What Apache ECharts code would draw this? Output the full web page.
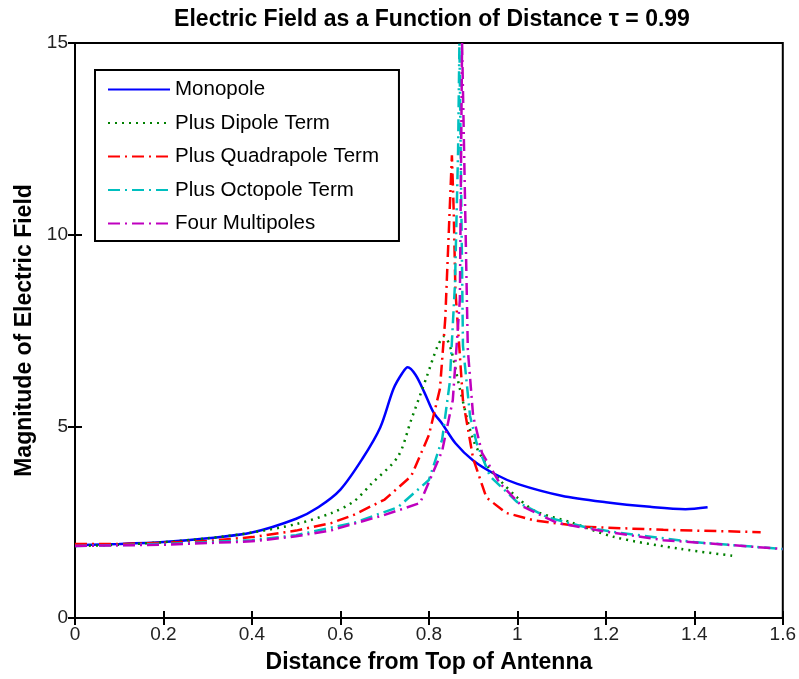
<!DOCTYPE html>
<html>
<head>
<meta charset="utf-8">
<script src="https://cdn.jsdelivr.net/npm/echarts@6/dist/echarts.min.js"></script>
<style>
  html, body { margin: 0; padding: 0; background: #fff; }
  #chart { width: 799px; height: 679px; }
</style>
</head>
<body>
<div id="chart"></div>
<script>
// distance from top of antenna (x) and field magnitude (y)
var monoX = [0, 0.1, 0.2, 0.3, 0.4, 0.5, 0.55, 0.6, 0.65, 0.69, 0.72, 0.74, 0.752, 0.77, 0.79, 0.81, 0.83, 0.86, 0.9, 0.95, 1.0, 1.1, 1.2, 1.3, 1.38, 1.43];
var monoY = [1.9, 1.93, 1.98, 2.08, 2.23, 2.59, 2.89, 3.35, 4.16, 4.97, 5.98, 6.39, 6.54, 6.34, 5.88, 5.37, 5.07, 4.56, 4.11, 3.75, 3.5, 3.19, 3.02, 2.9, 2.84, 2.89];

var dipX = [0, 0.1, 0.2, 0.3, 0.4, 0.5, 0.58, 0.63, 0.67, 0.73, 0.76, 0.795, 0.82, 0.835, 0.85, 0.87, 0.9, 0.93, 0.96, 1.0, 1.04, 1.12, 1.22, 1.37, 1.49];
var dipY = [1.88, 1.91, 1.98, 2.08, 2.23, 2.45, 2.74, 3.04, 3.5, 4.21, 5.17, 6.29, 7.1, 7.35, 7.0, 5.98, 4.66, 4.0, 3.6, 3.14, 2.79, 2.5, 2.11, 1.8, 1.62];

var quadX = [0, 0.1, 0.2, 0.3, 0.4, 0.5, 0.58, 0.63, 0.7, 0.76, 0.8, 0.825, 0.837, 0.847, 0.852, 0.856, 0.86, 0.877, 0.9, 0.93, 0.975, 1.04, 1.15, 1.33, 1.55];
var quadY = [1.93, 1.93, 1.96, 2.01, 2.11, 2.28, 2.48, 2.69, 3.09, 3.7, 4.77, 5.98, 7.81, 10.65, 12.07, 10.65, 8.52, 5.68, 4.16, 3.14, 2.74, 2.54, 2.38, 2.3, 2.24];

var octX = [0, 0.2, 0.4, 0.5, 0.58, 0.63, 0.73, 0.8, 0.83, 0.847, 0.859, 0.866, 0.869, 0.872, 0.877, 0.893, 0.908, 0.938, 1.0, 1.07, 1.15, 1.225, 1.4, 1.6];
var octY = [1.88, 1.93, 2.03, 2.16, 2.36, 2.48, 2.89, 3.6, 4.66, 6.13, 8.72, 12.2, 15, 15, 7.1, 5.27, 4.56, 3.7, 3.02, 2.62, 2.38, 2.23, 1.98, 1.8];

var fourX = [0, 0.2, 0.4, 0.5, 0.58, 0.7, 0.78, 0.83, 0.854, 0.87, 0.875, 0.879, 0.888, 0.9, 0.92, 0.96, 1.01, 1.09, 1.2, 1.33, 1.45, 1.6];
var fourY = [1.88, 1.91, 2.0, 2.13, 2.29, 2.69, 3.0, 4.36, 5.68, 8.31, 15, 15, 7.0, 5.27, 4.31, 3.52, 2.92, 2.48, 2.25, 2.03, 1.93, 1.8];

var seriesNames = ['Monopole', 'Plus Dipole Term', 'Plus Quadrapole Term', 'Plus Octopole Term', 'Four Multipoles'];

function pairs(xs, ys) {
  return xs.map(function (x, i) { return [x, ys[i]]; });
}

var chart = echarts.init(document.getElementById('chart'));

var font = 'Liberation Sans, Arial, sans-serif';

function lineSeries(name, data, color, type, width, smooth) {
  return {
    name: name,
    type: 'line',
    data: data,
    symbol: 'none',
    smooth: smooth,
    clip: true,
    color: color,
    lineStyle: { color: color, width: width, type: type },
    xAxisIndex: 0,
    yAxisIndex: 0
  };
}

var option = {
  animation: false,
  backgroundColor: '#fff',
  title: {
    text: 'Electric Field as a Function of Distance \u03c4 = 0.99',
    left: 427,
    textAlign: 'center',
    top: 3,
    textStyle: { fontFamily: font, fontSize: 23, fontWeight: 'bold', color: '#000' }
  },
  legend: {
    orient: 'vertical',
    left: 95,
    top: 70,
    padding: [9, 20, 7, 12],
    itemGap: 12.5,
    itemWidth: 62,
    itemHeight: 20,
    borderColor: '#000',
    borderWidth: 2,
    borderRadius: 0,
    backgroundColor: '#fff',
    itemStyle: { opacity: 0 },
    data: seriesNames,
    textStyle: { fontFamily: font, fontSize: 20.5, color: '#000' }
  },
  grid: {
    left: 75,
    right: 16,
    top: 43,
    bottom: 61,
    show: true,
    borderColor: '#000',
    borderWidth: 2
  },
  xAxis: [{
    type: 'value',
    min: 0,
    max: 1.6,
    interval: 0.2,
    name: 'Distance from Top of Antenna',
    nameLocation: 'middle',
    nameGap: 33,
    nameTextStyle: { fontFamily: font, fontSize: 23, fontWeight: 'bold', color: '#000' },
    axisLine: { lineStyle: { color: '#000', width: 2 } },
    axisTick: { inside: true, length: 7, lineStyle: { color: '#000', width: 2 } },
    axisLabel: { fontFamily: font, fontSize: 19, color: '#222', margin: 7 },
    splitLine: { show: false }
  }, {
    type: 'value',
    position: 'top',
    min: 0,
    max: 1.6,
    interval: 0.2,
    axisLine: { lineStyle: { color: '#000', width: 2 } },
    axisTick: { inside: true, length: 7, lineStyle: { color: '#000', width: 2 } },
    axisLabel: { show: false },
    splitLine: { show: false }
  }],
  yAxis: [{
    type: 'value',
    min: 0,
    max: 15,
    interval: 5,
    name: 'Magnitude of Electric Field',
    nameLocation: 'middle',
    nameGap: 36,
    nameTextStyle: { fontFamily: font, fontSize: 23, fontWeight: 'bold', color: '#000' },
    axisLine: { show: true, lineStyle: { color: '#000', width: 2 } },
    axisTick: { show: true, inside: true, length: 7, lineStyle: { color: '#000', width: 2 } },
    axisLabel: { fontFamily: font, fontSize: 19, color: '#222', margin: 7 },
    splitLine: { show: false }
  }, {
    type: 'value',
    position: 'right',
    min: 0,
    max: 15,
    interval: 5,
    axisLine: { show: true, lineStyle: { color: '#000', width: 2 } },
    axisTick: { show: true, inside: true, length: 7, lineStyle: { color: '#000', width: 2 } },
    axisLabel: { show: false },
    splitLine: { show: false }
  }],
  series: [
    lineSeries(seriesNames[0], pairs(monoX, monoY), '#0000ff', 'solid', 2.5, 0.3),
    lineSeries(seriesNames[1], pairs(dipX, dipY), '#008000', [2, 5], 2.5, 0.3),
    lineSeries(seriesNames[2], pairs(quadX, quadY), '#ff0000', [12, 5, 2, 5], 2.5, false),
    lineSeries(seriesNames[3], pairs(octX, octY), '#00bfbf', [12, 5, 2, 5], 2.5, false),
    lineSeries(seriesNames[4], pairs(fourX, fourY), '#bf00bf', [12, 5, 2, 5], 2.5, false)
  ]
};

chart.setOption(option);
</script>
</body>
</html>
